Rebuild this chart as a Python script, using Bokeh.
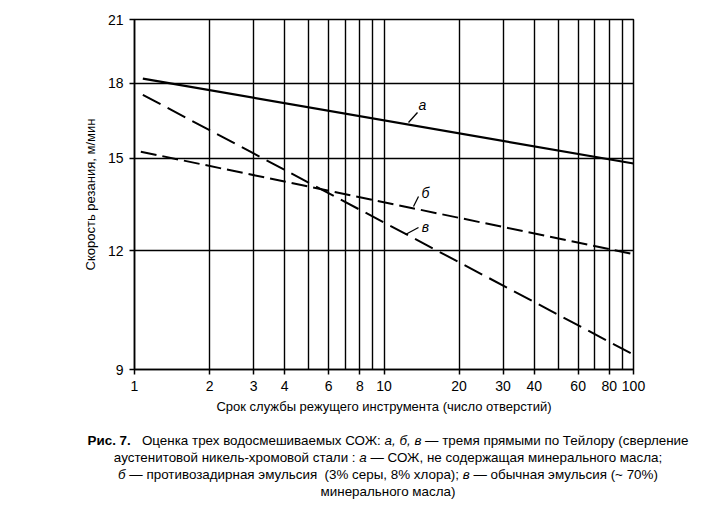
from bokeh.plotting import figure
from bokeh.layouts import column
from bokeh.models import FixedTicker, Label, Range1d, CustomJSTickFormatter, Arrow, Div
from bokeh.embed import file_html
from bokeh.resources import INLINE

# ---- data ----
x_a = [1.08, 100]
y_a = [18.2, 14.82]
x_b = [1.06, 100]
y_b = [15.25, 11.9]
x_v = [1.08, 100]
y_v = [17.5, 9.33]

x_tick_labels = [1, 2, 3, 4, 6, 8, 10, 20, 30, 40, 60, 80, 100]
x_grid_values = [1, 2, 3, 4, 5, 6, 7, 8, 9, 10, 20, 30, 40, 50, 60, 70, 80, 90, 100]
y_tick_labels = [9, 12, 15, 18, 21]

caption_html = (
    "<b>Рис. 7.</b>&nbsp;&nbsp; Оценка трех водосмешиваемых СОЖ: <i>а, б, в</i> — тремя прямыми по Тейлору (сверление<br>"
    "аустенитовой никель-хромовой стали : <i>а</i> — СОЖ, не содержащая минерального масла;<br>"
    "<i>б</i> — противозадирная эмульсия&nbsp; (3% серы, 8% хлора); <i>в</i> — обычная эмульсия (~ 70%)<br>"
    "минерального масла)"
)

FONT = "Liberation Sans"

FL, FT, FR, FB = 134, 19, 633, 369
W, H1, H2 = 712, 418, 87

fig = figure(width=W, height=H1, x_axis_type="log", y_axis_type="log",
             x_range=Range1d(1, 100), y_range=Range1d(9, 21),
             output_backend="svg", toolbar_location=None,
             min_border_left=FL, min_border_right=W - FR, min_border_top=FT, min_border_bottom=H1 - FB)

fig.outline_line_color = "black"
fig.outline_line_width = 1.5

fig.xaxis.ticker = FixedTicker(ticks=x_tick_labels)
fig.yaxis.ticker = FixedTicker(ticks=y_tick_labels)
fig.xaxis.formatter = CustomJSTickFormatter(code="return tick.toString();")
fig.yaxis.formatter = CustomJSTickFormatter(code="return tick.toString();")
fig.xgrid.ticker = FixedTicker(ticks=x_grid_values)
fig.ygrid.ticker = FixedTicker(ticks=y_tick_labels)
for g in (fig.xgrid, fig.ygrid):
    g.grid_line_color = "black"
    g.grid_line_width = 1.4
    g.grid_line_alpha = 1.0

for ax in (fig.xaxis, fig.yaxis):
    ax.axis_line_color = "black"
    ax.axis_line_width = 1.5
    ax.major_tick_line_color = "black"
    ax.major_tick_line_width = 1.5
    ax.major_tick_out = 5
    ax.major_tick_in = 0
    ax.minor_tick_line_color = None
    ax.major_label_text_font = FONT
    ax.major_label_text_font_size = "14px"
    ax.major_label_text_color = "black"
    ax.axis_label_text_font = FONT
    ax.axis_label_text_font_size = "13px"
    ax.axis_label_text_font_style = "normal"
    ax.axis_label_text_color = "black"

fig.xaxis.major_label_standoff = 6
fig.yaxis.major_label_standoff = 6
fig.xaxis.axis_label = "Срок службы режущего инструмента (число отверстий)"
fig.xaxis.axis_label_standoff = 5
fig.yaxis.axis_label = "Скорость резания, м/мин"
fig.yaxis.axis_label_standoff = 7

# Lines
fig.line(x_a, y_a, line_color="black", line_width=2.2)
fig.line(x_b, y_b, line_color="black", line_width=2.0, line_dash="16 6")
fig.line(x_v, y_v, line_color="black", line_width=2.0, line_dash="20 8")


def sx(px):
    return px - FL


def sy(py):
    return FB - py


for txt, (tx, ty) in {"а": (422, 104), "б": (425, 192), "в": (425, 226)}.items():
    fig.add_layout(Label(x=sx(tx), y=sy(ty), x_units="screen", y_units="screen", text=txt,
                         text_font=FONT, text_font_style="italic", text_font_size="14px",
                         text_align="center", text_baseline="middle", text_color="black"))

leaders = [((408, 122), (417, 112)), ((413, 206), (418, 196)), ((405, 234), (418, 227))]
for (x0, y0), (x1, y1) in leaders:
    fig.add_layout(Arrow(end=None, x_start=sx(x0), y_start=sy(y0), x_end=sx(x1), y_end=sy(y1),
                         start_units="screen", end_units="screen",
                         line_color="black", line_width=1.3))

cap = Div(text=caption_html, width=W, height=H2,
          styles={"font-family": "'Liberation Sans', Arial, sans-serif", "font-size": "13.4px",
                  "line-height": "17px", "color": "black", "text-align": "center",
                  "padding-top": "9px", "padding-left": "54px", "width": "658px",
                  "box-sizing": "content-box", "white-space": "nowrap"})

p = column(fig, cap, spacing=0)
open("out.html", "w").write(file_html(p, INLINE))
